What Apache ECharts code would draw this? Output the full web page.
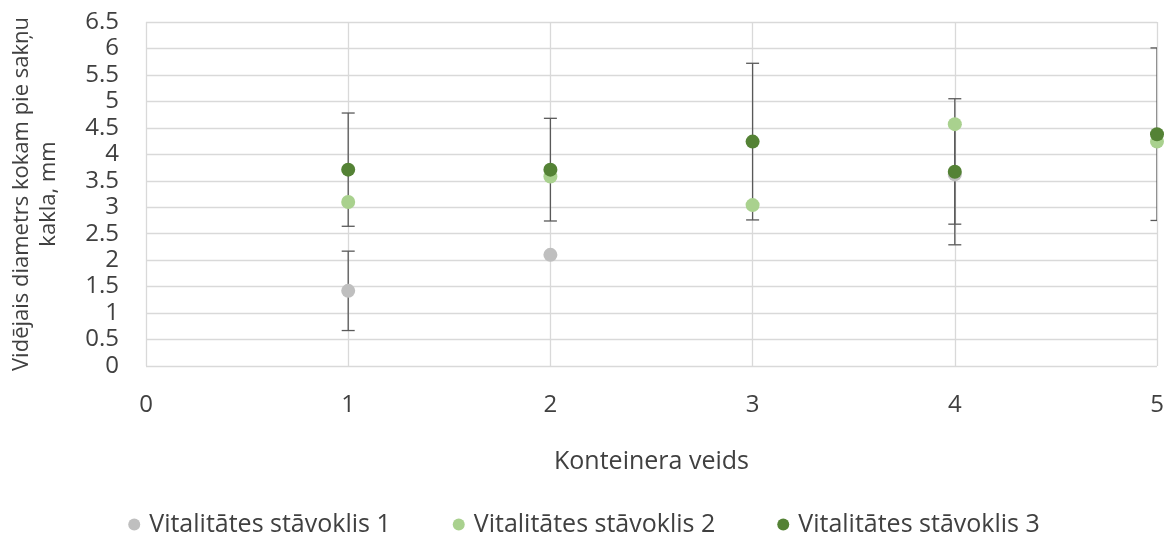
<!DOCTYPE html>
<html>
<head>
<meta charset="utf-8">
<script src="https://cdn.jsdelivr.net/npm/echarts@6/dist/echarts.min.js"></script>
<style>html,body{margin:0;padding:0;background:#fff}#c{width:1168px;height:534px}</style>
</head>
<body>
<div id="c"></div>
<script>
const seriesNames = ['Vitalitātes stāvoklis 1', 'Vitalitātes stāvoklis 2', 'Vitalitātes stāvoklis 3'];
const containers = [1, 2, 3, 4, 5];
const means1 = [1.42, 2.10, null, 3.62, null];
const errors1 = [0.75, null, null, 0.94, null];
const means2 = [3.10, 3.58, 3.04, 4.57, 4.24];
const errors2 = [null, null, null, null, null];
const means3 = [3.71, 3.71, 4.24, 3.67, 4.38];
const errors3 = [1.07, 0.97, 1.48, 1.38, 1.63];
const colors = ['#BFBFBF', '#A9D18E', '#548235'];
const fontFam = '"Open Sans", "Liberation Sans", sans-serif';

function pts(means) {
  return containers.map((x, i) => means[i] == null ? null : [x, means[i]]).filter(d => d);
}
function errs(means, errors) {
  return containers.map((x, i) => (means[i] == null || errors[i] == null) ? null : [x, means[i] - errors[i], means[i] + errors[i]]).filter(d => d);
}
function errSeries(data) {
  return {
    type: 'custom',
    silent: true,
    clip: true,
    z: 1,
    data: data,
    renderItem: function (params, api) {
      const x = api.value(0);
      const lo = api.coord([x, api.value(1)]);
      const hi = api.coord([x, api.value(2)]);
      const hw = 6.5;
      const st = { stroke: '#595959', lineWidth: 1.3 };
      return {
        type: 'group',
        children: [
          { type: 'line', shape: { x1: lo[0], y1: lo[1], x2: hi[0], y2: hi[1] }, style: st },
          { type: 'line', shape: { x1: lo[0] - hw, y1: lo[1], x2: lo[0] + hw, y2: lo[1] }, style: st },
          { type: 'line', shape: { x1: hi[0] - hw, y1: hi[1], x2: hi[0] + hw, y2: hi[1] }, style: st }
        ]
      };
    }
  };
}
const allMeans = [means1, means2, means3];
const allErrs = [errors1, errors2, errors3];
const series = [];
allMeans.forEach((m, k) => {
  series.push({
    name: seriesNames[k],
    type: 'scatter',
    symbol: 'circle',
    symbolSize: 14,
    z: 3,
    itemStyle: { color: colors[k], opacity: 1 },
    data: pts(m)
  });
});
allMeans.forEach((m, k) => {
  const d = errs(m, allErrs[k]);
  if (d.length) series.push(errSeries(d));
});

const chart = echarts.init(document.getElementById('c'));
chart.setOption({
  animation: false,
  backgroundColor: '#fff',
  grid: { left: 146, right: 11, top: 22, bottom: 168, containLabel: false, outerBoundsMode: 'none' },
  legend: {
    data: seriesNames,
    top: 507,
    left: 'center',
    itemWidth: 12,
    itemHeight: 12,
    itemGap: 62,
    icon: 'circle',
    textStyle: { fontFamily: fontFam, fontSize: 25, color: '#404040', padding: [0, 0, 0, 4] }
  },
  xAxis: {
    type: 'value',
    min: 0, max: 5, interval: 1,
    name: 'Konteinera veids',
    nameLocation: 'middle',
    nameGap: 83,
    nameTextStyle: { fontFamily: fontFam, fontSize: 25, color: '#404040' },
    axisLine: { show: false },
    axisTick: { show: false },
    axisLabel: { fontFamily: fontFam, fontSize: 24, color: '#404040', margin: 27 },
    splitLine: { show: true, lineStyle: { color: '#D9D9D9', width: 1.3 } }
  },
  yAxis: {
    type: 'value',
    min: 0, max: 6.5, interval: 0.5,
    name: 'Vidējais diametrs kokam pie sakņu\nkakla, mm',
    nameLocation: 'middle',
    nameGap: 84,
    nameTextStyle: { fontFamily: fontFam, fontSize: 22, color: '#404040', lineHeight: 27 },
    axisLine: { show: false },
    axisTick: { show: false },
    axisLabel: { fontFamily: fontFam, fontSize: 24, color: '#404040', margin: 27 },
    splitLine: { show: true, lineStyle: { color: '#D9D9D9', width: 1.3 } }
  },
  series: series
});
</script>
</body>
</html>
